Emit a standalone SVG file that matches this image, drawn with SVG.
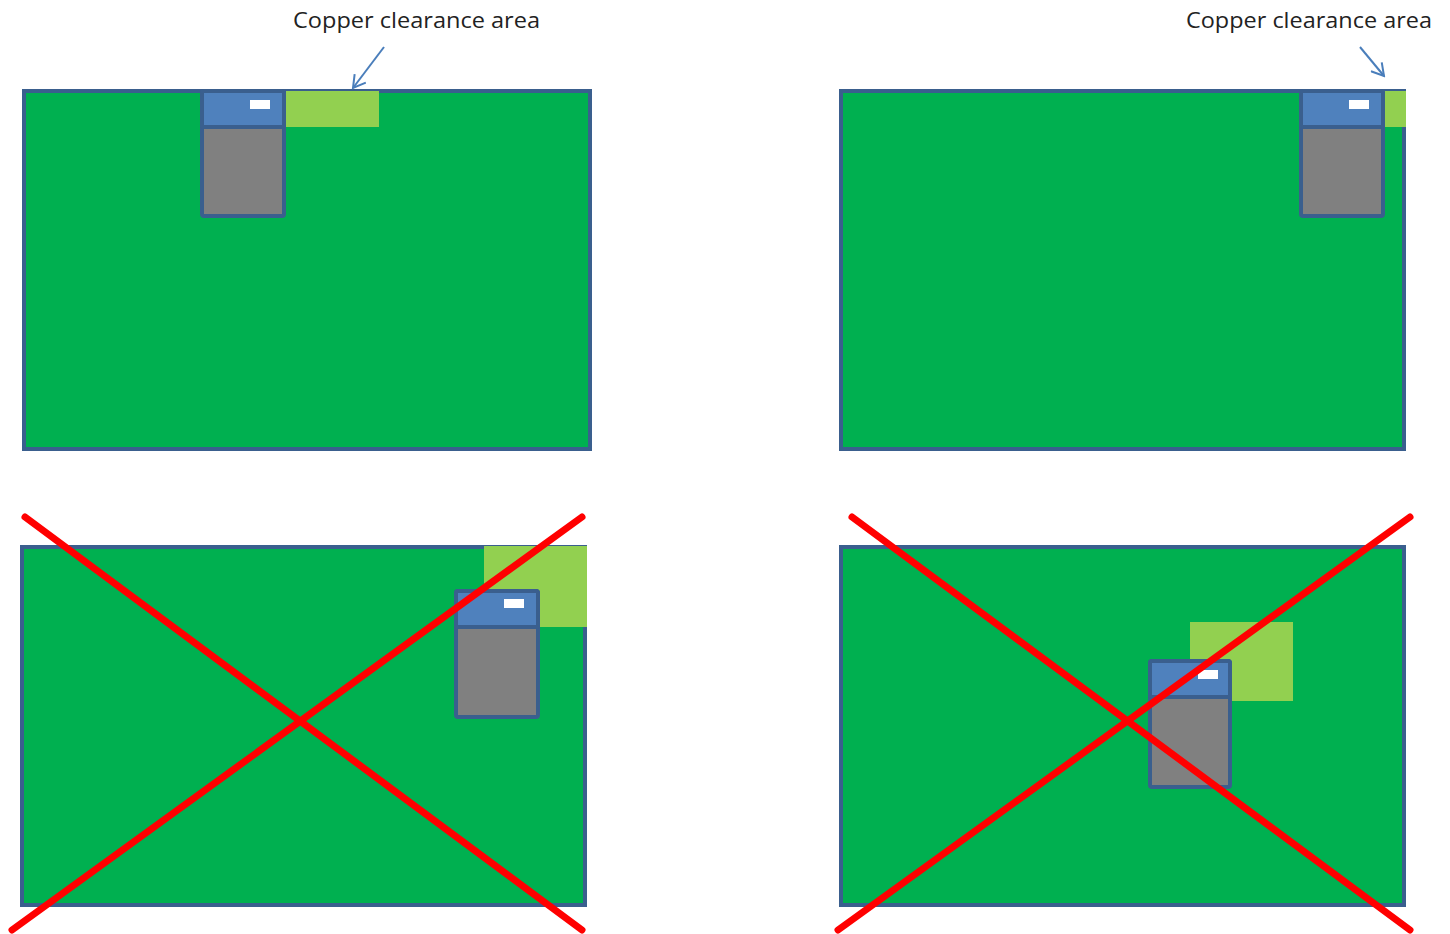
<svg xmlns="http://www.w3.org/2000/svg" width="1450" height="934" viewBox="0 0 1450 934">
<defs>
<style>
.board{fill:#00B050;stroke:#3A5F8E;stroke-width:4}
.clear{fill:#92D050}
.body{fill:#808080;stroke:#3A5F8E;stroke-width:4}
.cap{fill:#4F81BD;stroke:#3A5F8E;stroke-width:4}
.pin{fill:#FFFFFF}
.x{stroke:#FF0000;stroke-width:7;stroke-linecap:round}
.lbl{font-family:"Open Sans","Liberation Sans",sans-serif;font-size:21px;fill:#222}
.arrow{stroke:#4A7EBB;stroke-width:2;fill:none}
</style>
<marker id="ah" viewBox="0 0 16 16" refX="14" refY="8" markerWidth="16" markerHeight="16" markerUnits="userSpaceOnUse" orient="auto">
<path d="M2,1 L14,8 L2,15" fill="none" stroke="#4A7EBB" stroke-width="2"/>
</marker>
</defs>
<rect width="1450" height="934" fill="#FFFFFF"/>

<g id="board-top-left">
<rect class="board" x="24" y="91" width="566" height="358"/>
<rect class="clear" x="286" y="91" width="93" height="36"/>
<g id="conn-top-left">
<rect class="body" x="202" y="91" width="82" height="125" rx="2"/>
<rect class="cap" x="202" y="91" width="82" height="36" rx="2"/>
<rect class="pin" x="250" y="100" width="20" height="9"/>
</g>
</g>

<g id="board-top-right">
<rect class="board" x="841" y="91" width="563" height="358"/>
<rect class="clear" x="1384" y="91" width="22" height="36"/>
<g id="conn-top-right">
<rect class="body" x="1301" y="91" width="82" height="125" rx="2"/>
<rect class="cap" x="1301" y="91" width="82" height="36" rx="2"/>
<rect class="pin" x="1349" y="100" width="20" height="9"/>
</g>
</g>

<g id="board-bottom-left">
<rect class="board" x="22" y="547" width="563" height="358"/>
<rect class="clear" x="484" y="546" width="103" height="81"/>
<g id="conn-bottom-left">
<rect class="body" x="456" y="591" width="82" height="126" rx="2"/>
<rect class="cap" x="456" y="591" width="82" height="36" rx="2"/>
<rect class="pin" x="504" y="599" width="20" height="9"/>
</g>
</g>

<g id="board-bottom-right">
<rect class="board" x="841" y="547" width="563" height="358"/>
<rect class="clear" x="1190" y="622" width="103" height="79"/>
<g id="conn-bottom-right">
<rect class="body" x="1150" y="661" width="80" height="126" rx="2"/>
<rect class="cap" x="1150" y="661" width="80" height="36" rx="2"/>
<rect class="pin" x="1198" y="670" width="20" height="9"/>
</g>
</g>

<g id="labels">
<text class="lbl" x="293" y="28" textLength="247" lengthAdjust="spacingAndGlyphs">Copper clearance area</text>
<text class="lbl" x="1186" y="28" textLength="246" lengthAdjust="spacingAndGlyphs">Copper clearance area</text>
</g>

<g id="connectors">
<line class="arrow" x1="384" y1="47" x2="353" y2="88" marker-end="url(#ah)"/>
<line class="arrow" x1="1360" y1="47" x2="1384" y2="76" marker-end="url(#ah)"/>
</g>

<g id="crosses">
<line class="x" x1="25" y1="517" x2="582" y2="930"/>
<line class="x" x1="582" y1="517" x2="12" y2="930"/>
<line class="x" x1="852" y1="517" x2="1410" y2="930"/>
<line class="x" x1="1410" y1="517" x2="838" y2="930"/>
</g>
</svg>
